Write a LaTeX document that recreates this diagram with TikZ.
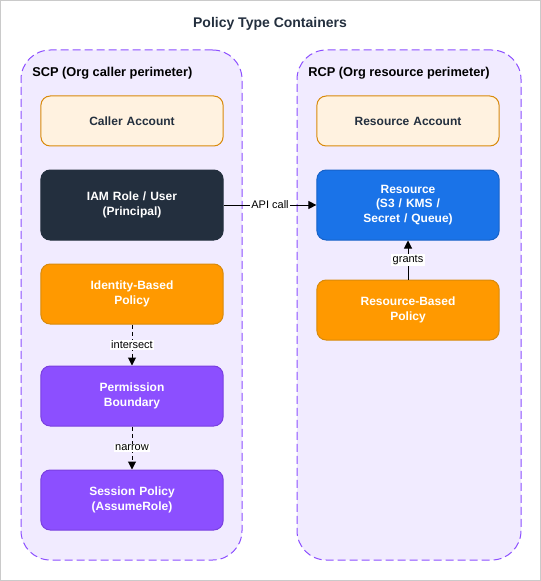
\documentclass[tikz,border=0pt]{standalone}
\usepackage{fontspec}
\setmainfont{Liberation Sans}
\usetikzlibrary{arrows.meta,positioning}
\definecolor{awsink}{HTML}{232F3E}
\definecolor{lavender}{HTML}{F1EBFF}
\definecolor{purpleline}{HTML}{8C4FFF}
\definecolor{peach}{HTML}{FFF2E0}
\definecolor{amberline}{HTML}{D98A0B}
\definecolor{awsorange}{HTML}{FF9900}
\definecolor{awsblue}{HTML}{1A73E8}
\definecolor{blueline}{HTML}{1762C8}
\definecolor{violetline}{HTML}{7A3FE0}
\definecolor{framegray}{HTML}{CACACA}

\begin{document}
\begin{tikzpicture}[x=0.75pt, y=-0.75pt]
  \tikzstyle{perimeter}=[rectangle, draw=purpleline, fill=lavender, line width=0.75pt, dash pattern=on 6pt off 3pt, rounded corners=22pt, minimum height=382.5pt]
  \tikzstyle{box}=[rectangle, rounded corners=7pt, line width=0.75pt, minimum width=135pt, text width=130pt, align=center, font=\fontsize{9}{10.8}\selectfont\bfseries]
  \tikzstyle{account}=[box, draw=amberline, fill=peach, text=awsink, minimum height=37.5pt]
  \tikzstyle{principal}=[box, draw=awsink, fill=awsink, text=white, minimum height=52.5pt]
  \tikzstyle{resource}=[box, draw=blueline, fill=awsblue, text=white, minimum height=52.5pt]
  \tikzstyle{policy}=[box, draw=amberline, fill=awsorange, text=white, minimum height=45pt]
  \tikzstyle{boundary}=[box, draw=violetline, fill=purpleline, text=white, minimum height=45pt]
  \tikzstyle{flow}=[-{Triangle[length=6pt, width=6pt]}, line width=0.75pt]
  \tikzstyle{tag}=[fill=white, inner sep=1pt, font=\fontsize{8.25}{9}\selectfont]

  \useasboundingbox (0,0) rectangle (541,581);
  \draw[framegray, line width=0.75pt] (0.5,0.5) rectangle (540.5,580.5);

  % Titulo
  \node[text=awsink, font=\fontsize{10.5}{12}\selectfont\bfseries] (title) at (270,24) {Policy Type Containers};

  % Perimetros
  \node[perimeter, minimum width=165.75pt] (scp) at (131.5,305) {};
  \node[perimeter, minimum width=168pt] (rcp) at (409,305) {};
  \node[anchor=west, inner sep=0pt, font=\fontsize{9.6}{11}\selectfont\bfseries] (scplabel) at (32,73) {SCP (Org caller perimeter)};
  \node[anchor=west, inner sep=0pt, font=\fontsize{9.6}{11}\selectfont\bfseries] (rcplabel) at (308,73) {RCP (Org resource perimeter)};

  % Lado del llamante
  \node[account] (caller) at (132,121) {Caller Account};
  \node[principal] (iam) at (132,205) {IAM Role / User\\(Principal)};
  \node[policy] (idp) at (132,294) {Identity-Based\\Policy};
  \node[boundary] (pb) at (132,396) {Permission\\Boundary};
  \node[boundary] (sess) at (132,500) {Session Policy\\(AssumeRole)};

  % Lado del recurso
  \node[account] (resacct) at (408,121) {Resource Account};
  \node[resource] (res) at (408,205) {Resource\\(S3 / KMS /\\Secret / Queue)};
  \node[policy] (rbp) at (408,310) {Resource-Based\\Policy};

  % Conexiones
  \draw[flow] (iam) -- node[tag] {API call} (res);
  \draw[flow] (rbp) -- node[tag] {grants} (res);
  \draw[flow, dash pattern=on 3pt off 2.5pt] (idp) -- node[tag] {intersect} (pb);
  \draw[flow, dash pattern=on 3pt off 2.5pt] (pb) -- node[tag] {narrow} (sess);
\end{tikzpicture}
\end{document}
